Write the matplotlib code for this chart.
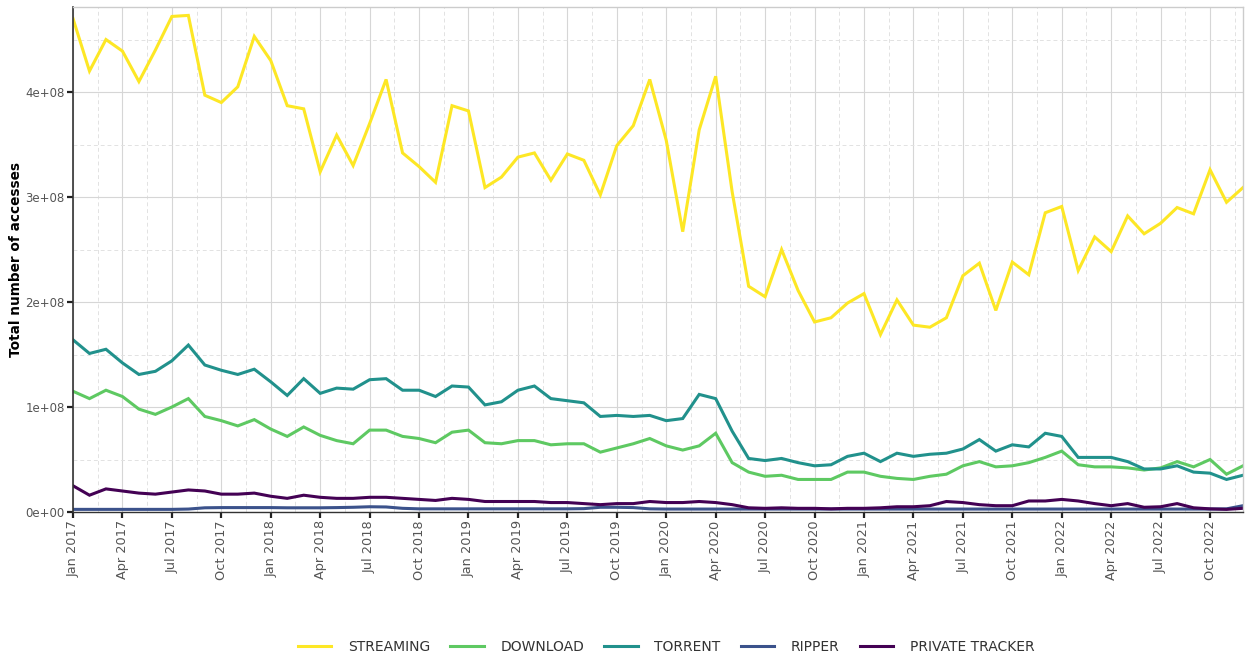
import matplotlib
matplotlib.use("Agg")
import matplotlib.pyplot as plt
import numpy as np
import pandas as pd

months = pd.period_range("2017-01", "2022-12", freq="M")

# values in units of 1e8 accesses
streaming = [4.70, 4.20, 4.50, 4.39, 4.10, 4.40, 4.72, 4.73, 3.97, 3.90, 4.05, 4.53,
             4.30, 3.87, 3.84, 3.24, 3.59, 3.30, 3.70, 4.12, 3.42, 3.29, 3.14, 3.87,
             3.82, 3.09, 3.19, 3.38, 3.42, 3.16, 3.41, 3.35, 3.02, 3.49, 3.68, 4.12,
             3.54, 2.67, 3.64, 4.15, 3.05, 2.15, 2.05, 2.50, 2.11, 1.81, 1.85, 1.99,
             2.08, 1.69, 2.02, 1.78, 1.76, 1.85, 2.25, 2.37, 1.92, 2.38, 2.26, 2.85,
             2.91, 2.30, 2.62, 2.48, 2.82, 2.65, 2.75, 2.90, 2.84, 3.26, 2.95, 3.09]
download = [1.15, 1.08, 1.16, 1.10, 0.98, 0.93, 1.00, 1.08, 0.91, 0.87, 0.82, 0.88,
            0.79, 0.72, 0.81, 0.73, 0.68, 0.65, 0.78, 0.78, 0.72, 0.70, 0.66, 0.76,
            0.78, 0.66, 0.65, 0.68, 0.68, 0.64, 0.65, 0.65, 0.57, 0.61, 0.65, 0.70,
            0.63, 0.59, 0.63, 0.75, 0.47, 0.38, 0.34, 0.35, 0.31, 0.31, 0.31, 0.38,
            0.38, 0.34, 0.32, 0.31, 0.34, 0.36, 0.44, 0.48, 0.43, 0.44, 0.47, 0.52,
            0.58, 0.45, 0.43, 0.43, 0.42, 0.40, 0.42, 0.48, 0.43, 0.50, 0.36, 0.44]
torrent = [1.64, 1.51, 1.55, 1.42, 1.31, 1.34, 1.44, 1.59, 1.40, 1.35, 1.31, 1.36,
           1.24, 1.11, 1.27, 1.13, 1.18, 1.17, 1.26, 1.27, 1.16, 1.16, 1.10, 1.20,
           1.19, 1.02, 1.05, 1.16, 1.20, 1.08, 1.06, 1.04, 0.91, 0.92, 0.91, 0.92,
           0.87, 0.89, 1.12, 1.08, 0.77, 0.51, 0.49, 0.51, 0.47, 0.44, 0.45, 0.53,
           0.56, 0.48, 0.56, 0.53, 0.55, 0.56, 0.60, 0.69, 0.58, 0.64, 0.62, 0.75,
           0.72, 0.52, 0.52, 0.52, 0.48, 0.41, 0.41, 0.44, 0.38, 0.37, 0.31, 0.35]
ripper = [0.025, 0.025, 0.025, 0.025, 0.025, 0.025, 0.025, 0.028, 0.040, 0.042, 0.042, 0.042,
          0.042, 0.040, 0.040, 0.040, 0.042, 0.045, 0.050, 0.048, 0.035, 0.030, 0.030, 0.030,
          0.030, 0.030, 0.030, 0.030, 0.030, 0.030, 0.030, 0.032, 0.045, 0.045, 0.042, 0.030,
          0.028, 0.028, 0.028, 0.028, 0.028, 0.028, 0.028, 0.028, 0.028, 0.028, 0.028, 0.028,
          0.028, 0.028, 0.028, 0.028, 0.028, 0.028, 0.028, 0.028, 0.028, 0.028, 0.028, 0.028,
          0.028, 0.028, 0.028, 0.028, 0.028, 0.028, 0.028, 0.028, 0.028, 0.028, 0.030, 0.060]
private_tracker = [0.25, 0.16, 0.22, 0.20, 0.18, 0.17, 0.19, 0.21, 0.20, 0.17, 0.17, 0.18,
                   0.15, 0.13, 0.16, 0.14, 0.13, 0.13, 0.14, 0.14, 0.13, 0.12, 0.11, 0.13,
                   0.12, 0.10, 0.10, 0.10, 0.10, 0.09, 0.09, 0.08, 0.07, 0.08, 0.08, 0.10,
                   0.09, 0.09, 0.10, 0.09, 0.07, 0.04, 0.035, 0.04, 0.035, 0.035, 0.03, 0.035,
                   0.035, 0.04, 0.05, 0.05, 0.06, 0.10, 0.09, 0.07, 0.06, 0.06, 0.105, 0.105,
                   0.12, 0.105, 0.08, 0.06, 0.08, 0.045, 0.05, 0.08, 0.04, 0.03, 0.025, 0.035]

series = ["STREAMING", "DOWNLOAD", "TORRENT", "RIPPER", "PRIVATE TRACKER"]
values = [streaming, download, torrent, ripper, private_tracker]
colors = ["#FDE725", "#5EC962", "#21918C", "#3B528B", "#440154"]

x = np.arange(len(months))
fig = plt.figure(figsize=(12.45, 6.57), dpi=100)
ax = fig.add_axes([73 / 1245, 1 - 512 / 657, 1170 / 1245, 505 / 657])

for name, vals, col in zip(series, values, colors):
    ax.plot(x, np.array(vals) * 1e8, color=col, lw=2.2, label=name, solid_joinstyle="miter")

ax.set_xlim(0, len(months) - 1)
ax.set_ylim(0, 4.81e8)

major_x = x[::3]
ax.set_xticks(major_x)
ax.set_xticklabels([m.strftime("%b %Y") for m in months[::3]], rotation=90,
                   fontsize=9.3, color="#555555")
ax.set_xticks(major_x + 1.5, minor=True)
ax.set_yticks(np.arange(0, 5e8, 1e8))
ax.set_yticklabels(["0e+00", "1e+08", "2e+08", "3e+08", "4e+08"], fontsize=8.5, color="#555555")
ax.set_yticks(np.arange(0.5e8, 4.81e8, 1e8), minor=True)

ax.grid(which="major", color="#d6d6d6", lw=0.8)
ax.grid(which="minor", color="#e2e2e2", lw=0.7, ls=(0, (4, 3)))
ax.set_axisbelow(True)

ax.tick_params(which="major", length=4, width=1.6, color="#222222", pad=2)
ax.tick_params(which="minor", length=0)
for side in ["top", "right"]:
    ax.spines[side].set_color("#cccccc")
    ax.spines[side].set_linewidth(1.0)
ax.spines["left"].set_color("#333333")
ax.spines["left"].set_linewidth(1.2)
ax.spines["bottom"].set_color("#333333")
ax.spines["bottom"].set_linewidth(1.0)

ax.set_ylabel("Total number of accesses", fontsize=9.8, fontweight="bold", labelpad=2)

fig.legend(loc="center", bbox_to_anchor=(0.535, 1 - 647 / 657), ncol=5, frameon=False,
           fontsize=10, handlelength=2.4, columnspacing=1.45, handletextpad=1.2,
           labelcolor="#333333")

fig.savefig("out.png", dpi=100)
